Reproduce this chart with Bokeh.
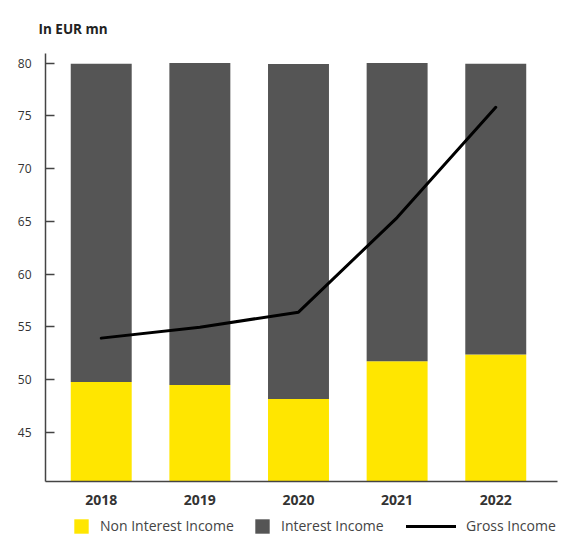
from bokeh.plotting import figure
from bokeh.layouts import column
from bokeh.models import Range1d, FixedTicker, Legend, LegendItem, ColumnDataSource
from bokeh.embed import file_html
from bokeh.resources import INLINE

years = ["2018", "2019", "2020", "2021", "2022"]
non_interest_income = [49.78, 49.5, 48.17, 51.74, 52.4]
bar_totals = [79.93, 80.0, 79.9, 80.0, 79.93]
gross_income = [53.94, 54.98, 56.4, 65.36, 75.8]
y_ticks = [45, 50, 55, 60, 65, 70, 75, 80]
legend_labels = ["Non Interest Income", "Interest Income", "Gross Income"]
title_text = "In EUR mn"

FONT = "Open Sans"
YELLOW = "#FFE600"
DARK = "#555555"

# ---- main chart ----
xs = list(range(len(years)))
src = ColumnDataSource(dict(x=xs, nii=non_interest_income, tot=bar_totals, gi=gross_income,
                            zero=[0] * len(xs)))

p = figure(width=565, height=508, output_backend="svg", toolbar_location=None,
           x_range=Range1d(-0.565, 4.626), y_range=Range1d(40.36, 80.9),
           min_border_left=45, min_border_right=8, min_border_top=53, min_border_bottom=27,
           title=title_text)
p.outline_line_color = None
p.grid.grid_line_color = None
p.background_fill_color = "white"
p.border_fill_color = "white"
p.title.align = "left"
p.title.vertical_align = "top"
p.title.offset = -7
p.title.standoff = 27
p.title.text_font = FONT
p.title.text_font_style = "bold"
p.title.text_font_size = "13.5px"
p.title.text_color = "#222222"

p.vbar(x="x", bottom="zero", top="nii", width=0.618, source=src,
       fill_color=YELLOW, line_color=None)
p.vbar(x="x", bottom="nii", top="tot", width=0.618, source=src,
       fill_color=DARK, line_color=None)
p.line(x="x", y="gi", source=src, line_color="black", line_width=3,
       line_cap="round", line_join="round")

xa = p.xaxis[0]
xa.ticker = FixedTicker(ticks=xs)
xa.major_label_overrides = {i: y for i, y in enumerate(years)}
xa.major_tick_line_color = None
xa.minor_tick_line_color = None
xa.axis_line_color = "#444444"
xa.axis_line_width = 1.5
xa.major_label_text_font = FONT
xa.major_label_text_font_style = "bold"
xa.major_label_text_font_size = "14px"
xa.major_label_text_color = "#333333"
xa.major_label_standoff = 7

ya = p.yaxis[0]
ya.ticker = FixedTicker(ticks=y_ticks)
ya.major_tick_in = 9
ya.major_tick_out = 0
ya.major_tick_line_color = "#444444"
ya.major_tick_line_width = 1.5
ya.minor_tick_line_color = None
ya.axis_line_color = "#444444"
ya.axis_line_width = 1.5
ya.major_label_text_font = FONT
ya.major_label_text_font_size = "12px"
ya.major_label_text_color = "#333333"
ya.major_label_standoff = 14

# ---- legend strip ----
pl = figure(width=565, height=28, output_backend="svg", toolbar_location=None,
            x_range=Range1d(0, 1), y_range=Range1d(0, 1),
            x_axis_location=None, y_axis_location=None,
            min_border=0, min_border_left=0, min_border_right=0,
            min_border_top=0, min_border_bottom=0)
pl.outline_line_color = None
pl.grid.grid_line_color = None
pl.background_fill_color = "white"
pl.border_fill_color = "white"

nan = float("nan")
proxy = ColumnDataSource(dict(x=[nan], top=[nan], y=[nan]))
lr_y = pl.vbar(x="x", top="top", width=0.1, source=proxy, fill_color=YELLOW, line_color=None)
lr_d = pl.vbar(x="x", top="top", width=0.1, source=proxy, fill_color=DARK, line_color=None)
lr_l = pl.line(x="x", y="y", source=proxy, line_color="black", line_width=3, line_cap="round")


def mk_legend(label, renderer, x, gw):
    lg = Legend(items=[LegendItem(label=label, renderers=[renderer])],
                location=(x, 1), orientation="horizontal",
                glyph_width=gw, glyph_height=18, label_height=18,
                label_standoff=10, padding=0, margin=0, spacing=0,
                border_line_color=None, background_fill_alpha=0,
                label_text_font=FONT, label_text_font_size="14px",
                label_text_color="#444444")
    pl.add_layout(lg, "center")


mk_legend(legend_labels[0], lr_y, 27, 18)
mk_legend(legend_labels[1], lr_d, 208, 18)
mk_legend(legend_labels[2], lr_l, 361, 50)

layout = column(p, pl, spacing=0)
open("out.html", "w").write(file_html(layout, INLINE))
